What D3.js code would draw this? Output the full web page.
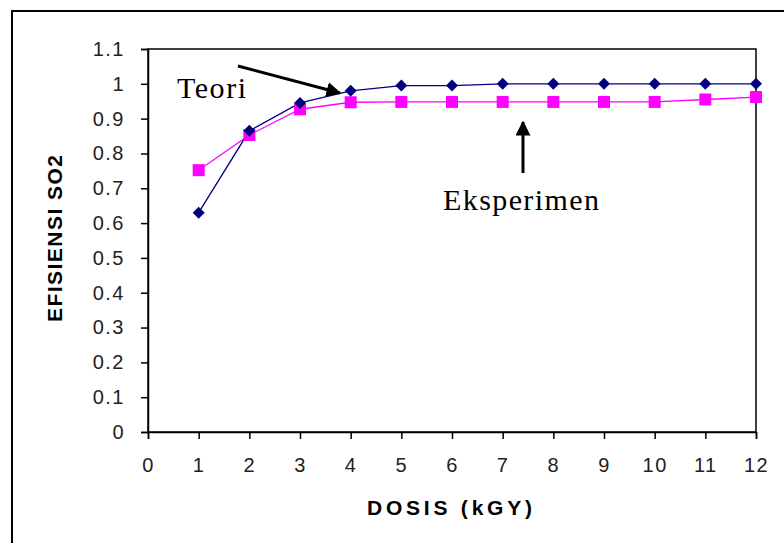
<!DOCTYPE html>
<html>
<head>
<meta charset="utf-8">
<script src="https://cdn.jsdelivr.net/npm/d3@7"></script>
<style>
  body { margin: 0; background: #fff; }
  .tick text { font-family: "Liberation Sans", Arial, sans-serif; font-size: 20px; fill: #222; letter-spacing: 1.5px; }
</style>
</head>
<body>
<div id="chart"></div>
<script>
// Data
var dosis = [1, 2, 3, 4, 5, 6, 7, 8, 9, 10, 11, 12];
var teori = [0.63, 0.865, 0.945, 0.98, 0.995, 0.995, 1.0, 1.0, 1.0, 1.0, 1.0, 1.0];
var eksperimen = [0.752, 0.853, 0.927, 0.947, 0.948, 0.948, 0.948, 0.948, 0.948, 0.948, 0.955, 0.962];
var xTicks = d3.range(0, 13);
var yTicks = [0, 0.1, 0.2, 0.3, 0.4, 0.5, 0.6, 0.7, 0.8, 0.9, 1, 1.1];

var width = 784, height = 543;
var plot = {left: 148, right: 756, top: 49, bottom: 432};

var svg = d3.select("#chart").append("svg")
    .attr("width", width)
    .attr("height", height);

// outer frame
svg.append("rect")
    .attr("x", 12).attr("y", 11)
    .attr("width", width).attr("height", height)
    .attr("fill", "#fff")
    .attr("stroke", "#000")
    .attr("stroke-width", 2);

var x = d3.scaleLinear().domain([0, 12]).range([plot.left, plot.right]);
var y = d3.scaleLinear().domain([0, 1.1]).range([plot.bottom, plot.top]);

// plot box
svg.append("rect")
    .attr("x", plot.left).attr("y", plot.top)
    .attr("width", plot.right - plot.left).attr("height", plot.bottom - plot.top)
    .attr("fill", "none")
    .attr("stroke", "#000")
    .attr("stroke-width", 1.5);

// axes
var xAxis = svg.append("g")
    .attr("transform", "translate(0," + plot.bottom + ")")
    .call(d3.axisBottom(x).tickValues(xTicks).tickSize(7).tickPadding(19).tickFormat(d3.format("d")));
var yAxis = svg.append("g")
    .attr("transform", "translate(" + plot.left + ",0)")
    .call(d3.axisLeft(y).tickValues(yTicks).tickSize(7).tickPadding(16).tickFormat(d => d3.format("")(+d.toFixed(1))));
[xAxis, yAxis].forEach(function(a){
  a.select(".domain").attr("stroke", "#000").attr("stroke-width", 1.5);
  a.selectAll(".tick line").attr("stroke", "#000").attr("stroke-width", 1.5);
});

// axis titles
svg.append("text")
    .attr("x", 367).attr("y", 515)
    .attr("textLength", 165)
    .attr("lengthAdjust", "spacing")
    .style("font-family", "'Liberation Sans', Arial, sans-serif")
    .style("font-weight", "bold")
    .style("font-size", "21px")
    .text("DOSIS (kGY)");
svg.append("text")
    .attr("transform", "translate(62,322) rotate(-90)")
    .attr("textLength", 167)
    .attr("lengthAdjust", "spacing")
    .style("font-family", "'Liberation Sans', Arial, sans-serif")
    .style("font-weight", "bold")
    .style("font-size", "21px")
    .text("EFISIENSI SO2");

// lines
var line = d3.line().x((d, i) => x(dosis[i])).y(d => y(d));

svg.append("path")
    .datum(eksperimen)
    .attr("d", line)
    .attr("fill", "none")
    .attr("stroke", "#ff00ff")
    .attr("stroke-width", 1.3);
svg.append("path")
    .datum(teori)
    .attr("d", line)
    .attr("fill", "none")
    .attr("stroke", "#000080")
    .attr("stroke-width", 1.3);

// markers
svg.selectAll(".sq").data(eksperimen).enter().append("rect")
    .attr("class", "sq")
    .attr("x", (d, i) => x(dosis[i]) - 6)
    .attr("y", d => y(d) - 6)
    .attr("width", 12).attr("height", 12)
    .attr("fill", "#ff00ff");
svg.selectAll(".dm").data(teori).enter().append("path")
    .attr("class", "dm")
    .attr("d", "M0,-6 L6,0 L0,6 L-6,0 Z")
    .attr("transform", (d, i) => "translate(" + x(dosis[i]) + "," + y(d) + ")")
    .attr("fill", "#000080");

// annotations
var defs = svg.append("defs");
defs.append("marker")
    .attr("id", "arrow")
    .attr("viewBox", "0 0 10 10")
    .attr("refX", 9).attr("refY", 5)
    .attr("markerWidth", 5).attr("markerHeight", 5)
    .attr("markerUnits", "strokeWidth")
    .attr("orient", "auto")
    .append("path")
    .attr("d", "M0,0 L10,5 L0,10 z")
    .attr("fill", "#000");

svg.append("line")
    .attr("x1", 238).attr("y1", 66)
    .attr("x2", 340).attr("y2", 93)
    .attr("stroke", "#000").attr("stroke-width", 3)
    .attr("marker-end", "url(#arrow)");
svg.append("line")
    .attr("x1", 523).attr("y1", 173)
    .attr("x2", 523).attr("y2", 122)
    .attr("stroke", "#000").attr("stroke-width", 3)
    .attr("marker-end", "url(#arrow)");

svg.append("text")
    .attr("x", 177).attr("y", 98)
    .attr("textLength", 69)
    .style("font-family", "'Liberation Serif', 'Times New Roman', serif")
    .style("font-size", "30px")
    .text("Teori");
svg.append("text")
    .attr("x", 443).attr("y", 210)
    .attr("textLength", 156)
    .style("font-family", "'Liberation Serif', 'Times New Roman', serif")
    .style("font-size", "30px")
    .text("Eksperimen");
</script>
</body>
</html>
